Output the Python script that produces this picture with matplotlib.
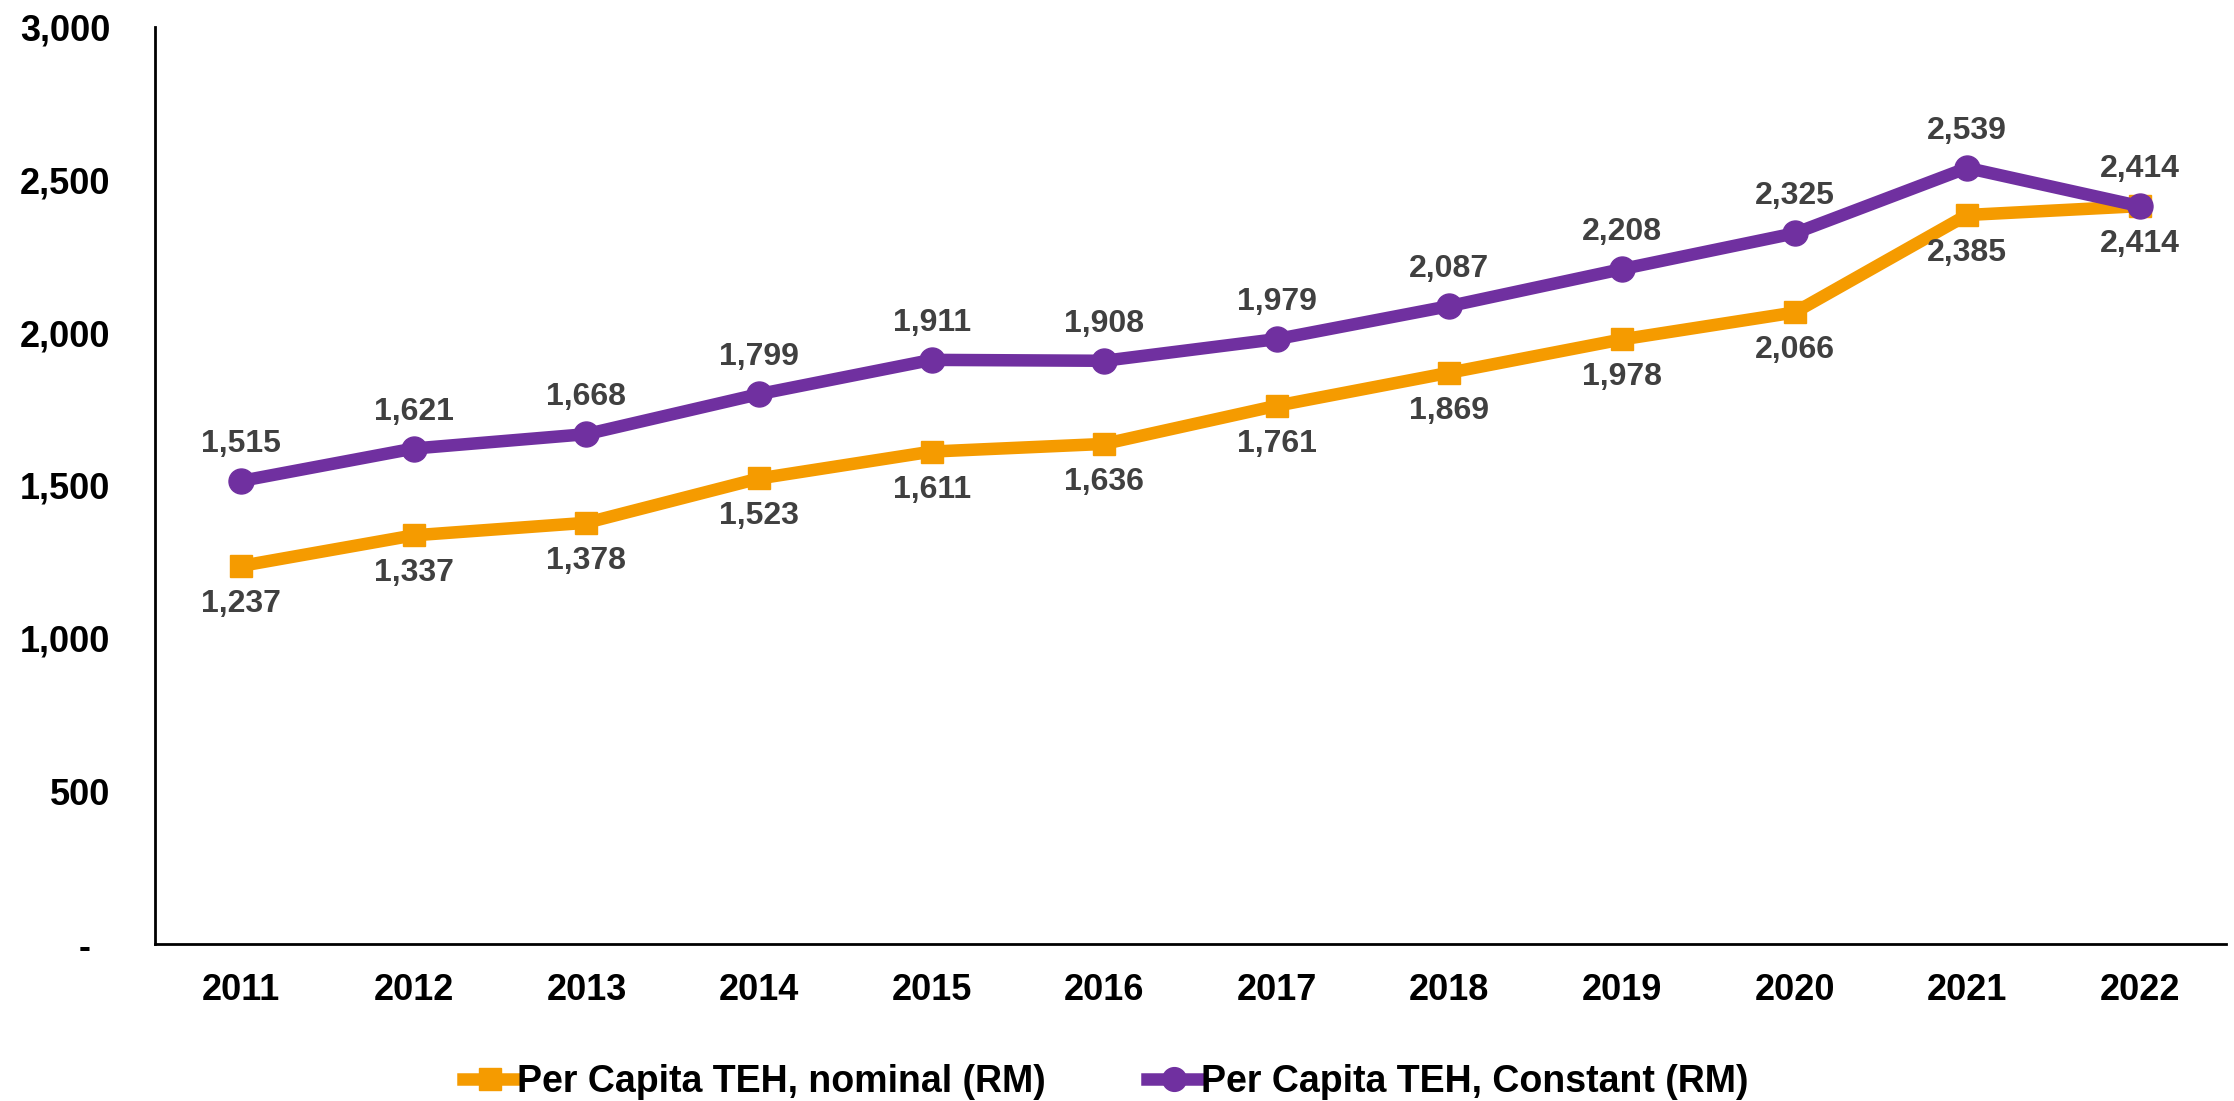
import matplotlib
matplotlib.use("Agg")
import matplotlib.pyplot as plt
from matplotlib.ticker import FuncFormatter

years = ["2011", "2012", "2013", "2014", "2015", "2016", "2017", "2018", "2019", "2020", "2021", "2022"]
nominal = [1237, 1337, 1378, 1523, 1611, 1636, 1761, 1869, 1978, 2066, 2385, 2414]
constant = [1515, 1621, 1668, 1799, 1911, 1908, 1979, 2087, 2208, 2325, 2539, 2414]
yticks = [0, 500, 1000, 1500, 2000, 2500, 3000]

plt.rcParams['font.family'] = ['Liberation Sans', 'DejaVu Sans']

fig = plt.figure(figsize=(22.34, 11.01), dpi=100)
ax = fig.add_axes([155/2234, 1 - 944/1101, (2226-155)/2234, (944-27)/1101])

orange = "#F59B00"
purple = "#7030A0"
x = list(range(len(years)))

ax.plot(x, nominal, color=orange, lw=9, marker='s', ms=16, mec=orange, mfc=orange,
        label="Per Capita TEH, nominal (RM)", zorder=3)
ax.plot(x, constant, color=purple, lw=9, marker='o', ms=18, mec=purple, mfc=purple,
        label="Per Capita TEH, Constant (RM)", zorder=4)

for xi, v in zip(x, nominal):
    ax.annotate(f"{v:,}", (xi, v), xytext=(0, -38), textcoords='offset pixels',
                ha='center', va='center', fontsize=23, fontweight='bold', color='#404040')
for xi, v in zip(x, constant):
    ax.annotate(f"{v:,}", (xi, v), xytext=(0, 37), textcoords='offset pixels',
                ha='center', va='center', fontsize=23, fontweight='bold', color='#404040')

ax.set_xlim(-0.5, len(years) - 0.5)
ax.set_ylim(0, 3000)
ax.set_xticks(x)
ax.set_xticklabels(years)
ax.set_yticks(yticks)
ax.yaxis.set_major_formatter(FuncFormatter(lambda v, p: "-  " if v == 0 else f"{int(v):,}"))
ax.tick_params(axis='both', length=0, labelsize=26)
ax.tick_params(axis='x', pad=21)
ax.tick_params(axis='y', pad=32)
for lab in ax.get_xticklabels() + ax.get_yticklabels():
    lab.set_fontweight('bold')
for s in ['top', 'right']:
    ax.spines[s].set_visible(False)
for s in ['left', 'bottom']:
    ax.spines[s].set_linewidth(2)

leg = fig.legend(loc='center', bbox_to_anchor=(0.495, 1 - 1082/1101), ncol=2, frameon=False,
                 prop={'size': 27, 'weight': 'bold'}, handlelength=1.45, handletextpad=0.0,
                 columnspacing=2.7, markerscale=0.95)

fig.savefig("out.png", dpi=100, facecolor='white')
